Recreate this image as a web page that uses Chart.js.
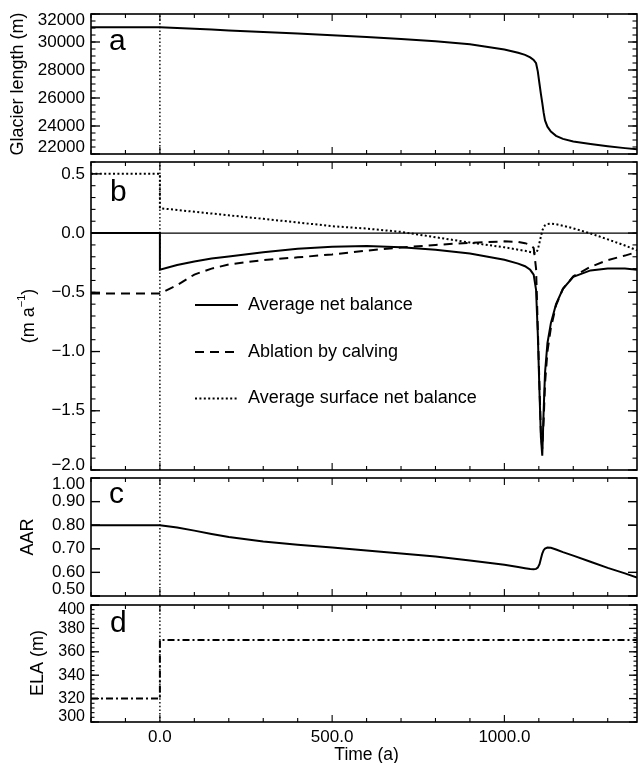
<!DOCTYPE html>
<html>
<head>
<meta charset="utf-8">
<script src="https://cdn.jsdelivr.net/npm/chart.js@4/dist/chart.umd.min.js"></script>
<style>
  html, body { margin: 0; padding: 0; background: #fff; }
  #figure { position: relative; width: 638px; height: 763px; overflow: hidden; background: #fff; }
  #figure canvas { position: absolute; left: 0; }
</style>
</head>
<body>
<div id="figure">
  <canvas id="panelA"></canvas>
  <canvas id="panelB"></canvas>
  <canvas id="panelC"></canvas>
  <canvas id="panelD"></canvas>
</div>
<script>
// Model time (years); 0 is the step change in climate.
const time = [-200, 0, 0, 50, 100, 150, 200, 300, 400, 500, 600, 700, 800, 900, 1000,
  1040, 1060, 1075, 1085, 1092, 1097, 1102, 1106, 1110, 1114, 1118, 1125, 1135,
  1150, 1170, 1200, 1250, 1300, 1350, 1385];

// (a) glacier length, m
const glacierLength = [31050, 31050, 31050, 31000, 30945, 30890, 30830, 30720, 30610, 30490,
  30360, 30210, 30050, 29840, 29470, 29230, 29080, 28900, 28720, 28480, 27900, 27000,
  26300, 25650, 24950, 24400, 23950, 23600, 23300, 23080, 22900, 22720, 22560, 22420, 22330];

// (b) balance terms, m a^-1
const netBalance = [0, 0, -0.31, -0.27, -0.24, -0.215, -0.197, -0.162, -0.132, -0.115,
  -0.11, -0.12, -0.14, -0.172, -0.225, -0.258, -0.28, -0.31, -0.35, -0.48, -0.85, -1.35,
  -1.72, -1.88, -1.5, -1.18, -0.93, -0.76, -0.6, -0.47, -0.37, -0.315, -0.3, -0.3, -0.31];
const calvingAblation = [-0.51, -0.51, -0.51, -0.44, -0.35, -0.3, -0.265, -0.228, -0.205, -0.18,
  -0.148, -0.122, -0.1, -0.082, -0.07, -0.074, -0.085, -0.1, -0.125, -0.3, -0.8, -1.3,
  -1.68, -1.82, -1.58, -1.27, -1.0, -0.8, -0.61, -0.47, -0.365, -0.285, -0.228, -0.19, -0.16];
const surfaceBalance = [0.5, 0.5, 0.21, 0.195, 0.18, 0.165, 0.15, 0.12, 0.09, 0.058,
  0.038, 0.01, -0.035, -0.08, -0.12, -0.14, -0.15, -0.16, -0.166, -0.17, -0.14, -0.08,
  -0.03, 0.02, 0.05, 0.065, 0.076, 0.08, 0.075, 0.062, 0.04, -0.003, -0.053, -0.105, -0.146];

// (c) accumulation area ratio
const aar = [0.8, 0.8, 0.8, 0.79, 0.777, 0.763, 0.75, 0.731, 0.717, 0.706,
  0.693, 0.68, 0.667, 0.65, 0.632, 0.623, 0.618, 0.614, 0.613, 0.615, 0.62, 0.635,
  0.658, 0.68, 0.694, 0.701, 0.705, 0.704, 0.697, 0.686, 0.671, 0.645, 0.619, 0.596, 0.578];

// (d) equilibrium line altitude, m
const ela = [320, 320, 370, 370, 370, 370, 370, 370, 370, 370, 370, 370, 370, 370, 370,
  370, 370, 370, 370, 370, 370, 370, 370, 370, 370, 370, 370, 370, 370, 370, 370,
  370, 370, 370, 370];

// Axis extents and tick values
const timeRange = [-200, 1385];
const timeTickLabels = [0, 500, 1000];
const stepTime = 0;
const lengthTicks = [22000, 24000, 26000, 28000, 30000, 32000];
const balanceTicks = [-2.0, -1.5, -1.0, -0.5, 0.0, 0.5];
const aarTicks = [0.5, 0.6, 0.7, 0.8, 0.9, 1.0];
const elaTicks = [300, 320, 340, 360, 380, 400];

const FONT = '"Liberation Sans", Arial, Helvetica, sans-serif';
const pts = (xs, ys) => xs.map((x, i) => ({ x, y: ys[i] }));
const minus = s => s.replace('-', '\u2212');

// Draws frame, inward ticks, tick labels, axis title, panel letter and legend
const panelDecor = {
  id: 'panelDecor',
  afterDatasetsDraw(chart, args, o) {
    const ctx = chart.ctx, a = chart.chartArea;
    const xs = chart.scales.x, ys = chart.scales.y;
    const off = o.top;
    ctx.save();
    ctx.strokeStyle = '#000';
    ctx.fillStyle = '#000';
    const seg = (x1, y1, x2, y2) => { ctx.beginPath(); ctx.moveTo(x1, y1); ctx.lineTo(x2, y2); ctx.stroke(); };

    ctx.lineWidth = 1.1;
    for (let k = Math.ceil(xs.min / 100); k * 100 <= xs.max; k++) {
      const px = xs.getPixelForValue(k * 100);
      const len = k % 5 === 0 ? 7 : 4;
      seg(px, a.top, px, a.top + len);
      seg(px, a.bottom, px, a.bottom - len);
    }
    const n = Math.round((ys.max - ys.min) / o.minorStep);
    for (let k = 0; k <= n; k++) {
      const py = ys.getPixelForValue(ys.min + k * o.minorStep);
      seg(a.left, py, a.left + o.minorLen, py);
      seg(a.right, py, a.right - o.minorLen, py);
    }
    ctx.lineWidth = 1.3;
    o.ticks.forEach(v => {
      const py = ys.getPixelForValue(v);
      seg(a.left, py, a.left + o.majorLen, py);
      seg(a.right, py, a.right - o.majorLen, py);
    });

    ctx.lineWidth = 1.6;
    ctx.strokeRect(a.left, a.top, a.right - a.left, a.bottom - a.top);

    // value labels, end labels kept inside the frame
    ctx.font = o.tickFont + 'px ' + FONT;
    ctx.textAlign = 'right';
    ctx.textBaseline = 'middle';
    o.ticks.forEach(v => {
      let py = ys.getPixelForValue(v);
      py = Math.min(Math.max(py, a.top + o.inset), a.bottom - o.inset);
      ctx.fillText(minus(o.format(v)), a.left - 6, py);
    });

    // time labels
    if (o.timeLabels) {
      ctx.font = '17px ' + FONT;
      ctx.textAlign = 'center';
      timeTickLabels.forEach(v => ctx.fillText(v.toFixed(1), xs.getPixelForValue(v), o.timeLabelY - off));
      ctx.font = '17.5px ' + FONT;
      ctx.fillText('Time (a)', (a.left + xs.getPixelForValue(1400)) / 2, o.timeTitleY - off);
    }

    // axis title (rotated)
    ctx.save();
    ctx.translate(o.title.x, o.title.y - off);
    ctx.rotate(-Math.PI / 2);
    ctx.textBaseline = 'middle';
    ctx.textAlign = 'left';
    const parts = o.title.parts.map(p => {
      const size = p.sup ? 11 : 18;
      ctx.font = size + 'px ' + FONT;
      return { p, size, w: ctx.measureText(p.t).width };
    });
    let cx = -parts.reduce((s, q) => s + q.w, 0) / 2;
    parts.forEach(q => {
      ctx.font = q.size + 'px ' + FONT;
      ctx.fillText(q.p.t, cx, q.p.sup ? -7 : 0);
      cx += q.w;
    });
    ctx.restore();

    // panel letter
    ctx.font = '30px ' + FONT;
    ctx.textAlign = 'left';
    ctx.textBaseline = 'alphabetic';
    ctx.fillText(o.letter.t, o.letter.x, o.letter.y - off);

    // legend
    if (o.legend) {
      ctx.font = '18px ' + FONT;
      ctx.textBaseline = 'middle';
      o.legend.forEach(item => {
        const y = item.y - off;
        ctx.lineWidth = 2;
        ctx.setLineDash(item.dash);
        seg(o.legendX, y, o.legendX + 43, y);
        ctx.setLineDash([]);
        ctx.fillText(item.text, o.legendX + 53, y);
      });
    }
    ctx.restore();
  }
};

function stepMarker(yLo, yHi) {
  return { data: [{ x: stepTime, y: yLo }, { x: stepTime, y: yHi }],
    borderColor: '#000', borderWidth: 1.4, borderDash: [1.5, 2.2], pointRadius: 0 };
}

function curve(ys, dash, width) {
  return { data: pts(time, ys), borderColor: '#000', borderWidth: width || 2,
    borderDash: dash || [], pointRadius: 0, tension: 0, borderCapStyle: 'butt' };
}

const panels = [
  { id: 'panelA', top: 0, height: 158, plotTop: 14, plotBottom: 154, yMin: 22000, yMax: 32000,
    datasets: [curve(glacierLength)],
    decor: { ticks: lengthTicks, minorStep: 500, minorLen: 4.5, majorLen: 9, tickFont: 17, inset: 6.5,
      format: v => String(v),
      title: { x: 18.5, y: 84, parts: [{ t: 'Glacier length (m)' }] },
      letter: { t: 'a', x: 109, y: 50 } } },
  { id: 'panelB', top: 158, height: 316, plotTop: 162, plotBottom: 470, yMin: -2.0, yMax: 0.6,
    datasets: [
      { data: [{ x: timeRange[0], y: 0 }, { x: timeRange[1], y: 0 }], borderColor: '#000', borderWidth: 1.2, pointRadius: 0 },
      curve(surfaceBalance, [2, 2.4]),
      curve(calvingAblation, [9, 6]),
      curve(netBalance)],
    decor: { ticks: balanceTicks, minorStep: 0.1, minorLen: 4.5, majorLen: 9, tickFont: 17, inset: 4.5,
      format: v => v.toFixed(1),
      title: { x: 29, y: 316, parts: [{ t: '(m a' }, { t: '\u22121', sup: true }, { t: ')' }] },
      letter: { t: 'b', x: 110, y: 200.5 },
      legendX: 195,
      legend: [
        { text: 'Average net balance', dash: [], y: 305 },
        { text: 'Ablation by calving', dash: [9, 6], y: 352 },
        { text: 'Average surface net balance', dash: [2, 2.4], y: 398.5 }] } },
  { id: 'panelC', top: 474, height: 127, plotTop: 478, plotBottom: 596, yMin: 0.5, yMax: 1.0,
    datasets: [curve(aar)],
    decor: { ticks: aarTicks, minorStep: 0.1, minorLen: 9, majorLen: 9, tickFont: 17, inset: 6.5,
      format: v => v.toFixed(2),
      title: { x: 28.5, y: 537, parts: [{ t: 'AAR' }] },
      letter: { t: 'c', x: 109, y: 503 } } },
  { id: 'panelD', top: 601, height: 162, plotTop: 605, plotBottom: 722, yMin: 300, yMax: 400,
    datasets: [curve(ela, [7, 3, 2, 3])],
    decor: { ticks: elaTicks, minorStep: 4, minorLen: 3.5, majorLen: 8, tickFont: 16, inset: 5,
      format: v => String(v),
      title: { x: 38.5, y: 663, parts: [{ t: 'ELA (m)' }] },
      letter: { t: 'd', x: 110, y: 632 },
      timeLabels: true, timeLabelY: 737, timeTitleY: 755 } }
];

panels.forEach(p => {
  const cv = document.getElementById(p.id);
  cv.width = 638;
  cv.height = p.height;
  cv.style.top = p.top + 'px';
  new Chart(cv, {
    type: 'line',
    data: { datasets: [stepMarker(p.yMin, p.yMax), ...p.datasets] },
    options: {
      responsive: false,
      animation: false,
      events: [],
      parsing: false,
      layout: { padding: { left: 91, right: 1, top: p.plotTop - p.top, bottom: p.top + p.height - p.plotBottom } },
      scales: {
        x: { type: 'linear', display: false, min: timeRange[0], max: timeRange[1] },
        y: { type: 'linear', display: false, min: p.yMin, max: p.yMax }
      },
      plugins: {
        legend: { display: false },
        tooltip: { enabled: false },
        panelDecor: Object.assign({ top: p.top }, p.decor)
      }
    },
    plugins: [panelDecor]
  });
});
</script>
</body>
</html>
